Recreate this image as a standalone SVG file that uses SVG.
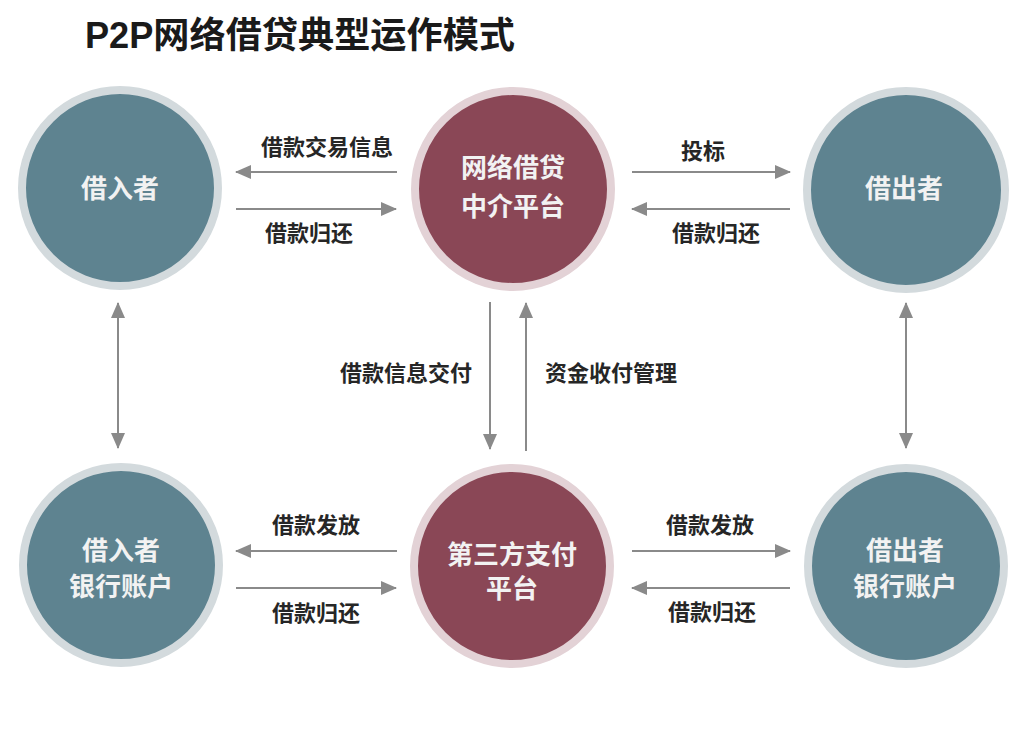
<svg xmlns="http://www.w3.org/2000/svg" width="1024" height="743" viewBox="0 0 1024 743">
<style>
.bg{fill:#ffffff}
.ringB{fill:#5e8390;stroke:#d3dadd;stroke-width:8}
.ringR{fill:#8a4756;stroke:#e3d2d6;stroke-width:8}
.ntxt{font-family:"Liberation Sans","Noto Sans CJK SC",sans-serif;font-size:26px;font-weight:bold;fill:#f2f2f2;text-anchor:middle;dominant-baseline:central}
.lbl{font-family:"Liberation Sans","Noto Sans CJK SC",sans-serif;font-size:22px;font-weight:bold;fill:#262626;text-anchor:middle;dominant-baseline:central}
.title{font-family:"Liberation Sans","Noto Sans CJK SC",sans-serif;font-size:36px;font-weight:bold;fill:#1a1a1a}
.ln{stroke:#8a8a8a;stroke-width:2;fill:none;marker-end:url(#ah)}
.dbl{stroke:#8a8a8a;stroke-width:2;fill:none;marker-end:url(#ah);marker-start:url(#ahs)}
</style>
<defs>
<marker id="ah" markerUnits="userSpaceOnUse" markerWidth="16" markerHeight="14" refX="15" refY="7" orient="auto">
<path d="M0,0 L16,7 L0,14 Z" fill="#8a8a8a"/>
</marker>
<marker id="ahs" markerUnits="userSpaceOnUse" markerWidth="16" markerHeight="14" refX="1" refY="7" orient="auto">
<path d="M16,0 L0,7 L16,14 Z" fill="#8a8a8a"/>
</marker>
</defs>
<rect class="bg" x="0" y="0" width="1024" height="743"/>
<text class="title" x="85" y="48" textLength="430" lengthAdjust="spacingAndGlyphs">P2P网络借贷典型运作模式</text>

<g id="borrower">
<circle class="ringB" cx="120" cy="188" r="98"/>
<text class="ntxt" x="120" y="189">借入者</text>
</g>
<g id="platform">
<circle class="ringR" cx="513" cy="189" r="98"/>
<text class="ntxt" x="513" y="168">网络借贷</text>
<text class="ntxt" x="513" y="207">中介平台</text>
</g>
<g id="lender">
<circle class="ringB" cx="906" cy="190" r="99"/>
<text class="ntxt" x="904" y="189">借出者</text>
</g>
<g id="borrower-bank">
<circle class="ringB" cx="121" cy="565" r="98"/>
<text class="ntxt" x="121" y="551">借入者</text>
<text class="ntxt" x="121" y="587">银行账户</text>
</g>
<g id="payment">
<circle class="ringR" cx="512" cy="566" r="98"/>
<text class="ntxt" x="512" y="555">第三方支付</text>
<text class="ntxt" x="512" y="589">平台</text>
</g>
<g id="lender-bank">
<circle class="ringB" cx="906" cy="566" r="98"/>
<text class="ntxt" x="905" y="551">借出者</text>
<text class="ntxt" x="905" y="587">银行账户</text>
</g>

<g id="connectors">
<line class="ln" x1="397" y1="172" x2="236" y2="172"/>
<line class="ln" x1="236" y1="209" x2="396" y2="209"/>
<line class="ln" x1="632" y1="172" x2="790" y2="172"/>
<line class="ln" x1="790" y1="209" x2="632" y2="209"/>
<line class="ln" x1="490" y1="302" x2="490" y2="449"/>
<line class="ln" x1="526" y1="451" x2="526" y2="303"/>
<line class="dbl" x1="118" y1="303" x2="118" y2="448"/>
<line class="dbl" x1="906" y1="303" x2="906" y2="448"/>
<line class="ln" x1="397" y1="551" x2="236" y2="551"/>
<line class="ln" x1="236" y1="588" x2="396" y2="588"/>
<line class="ln" x1="632" y1="551" x2="790" y2="551"/>
<line class="ln" x1="790" y1="588" x2="632" y2="588"/>
<text class="lbl" x="327" y="147">借款交易信息</text>
<text class="lbl" x="309" y="233">借款归还</text>
<text class="lbl" x="703" y="151">投标</text>
<text class="lbl" x="716" y="233">借款归还</text>
<text class="lbl" x="406" y="373">借款信息交付</text>
<text class="lbl" x="611" y="373">资金收付管理</text>
<text class="lbl" x="316" y="525">借款发放</text>
<text class="lbl" x="316" y="613">借款归还</text>
<text class="lbl" x="710" y="525">借款发放</text>
<text class="lbl" x="712" y="612">借款归还</text>
</g>
</svg>
